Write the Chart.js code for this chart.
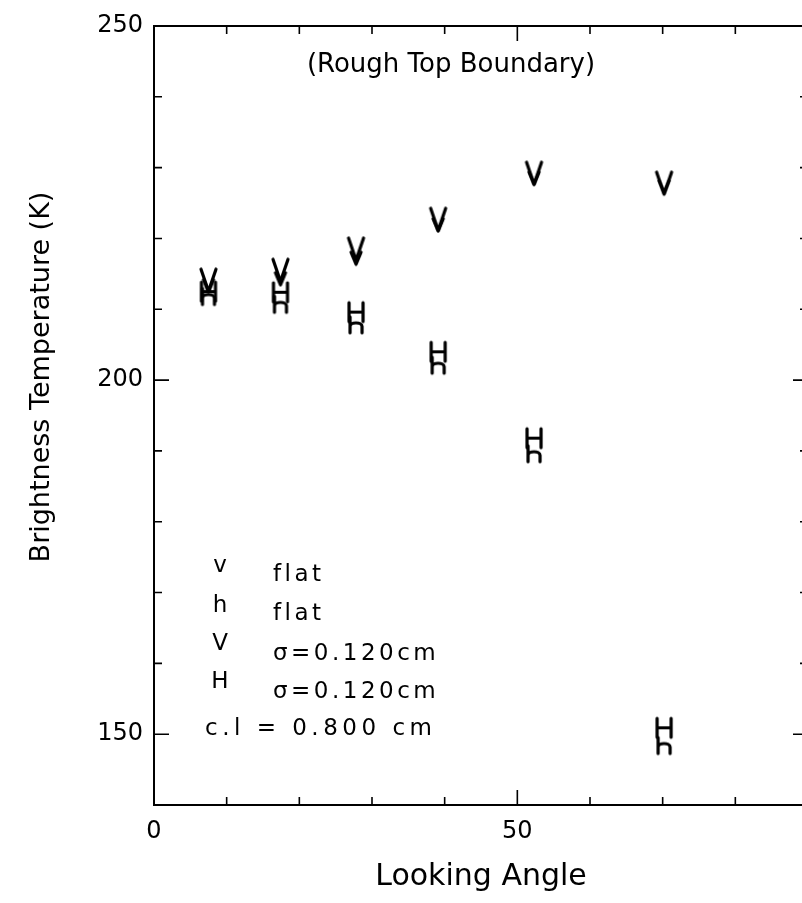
<!DOCTYPE html>
<html>
<head>
<meta charset="utf-8">
<script src="https://cdn.jsdelivr.net/npm/chart.js@4.4.1/dist/chart.umd.min.js"></script>
<style>
  html, body { margin: 0; padding: 0; background: #fff; overflow: hidden; }
  #wrap { width: 802px; height: 903px; overflow: hidden; }
  canvas { display: block; }
</style>
</head>
<body>
<div id="wrap"><canvas id="tbChart" width="814" height="903"></canvas></div>
<script>
// looking angles (deg) and brightness temperatures (K)
const angles = [7.5, 17.4, 27.8, 39.1, 52.3, 70.2];
const flatV = [213.3, 214.3, 217.2, 221.9, 228.5, 227.3];
const flatH = [211.8, 210.7, 207.8, 202.1, 189.6, 148.4];
const roughV = [214.1, 215.5, 218.5, 222.7, 229.2, 227.8];
const roughH = [212.5, 212.4, 209.6, 204.0, 191.8, 150.9];

const xTickLabels = [0, 50];
const yTickLabels = [150, 200, 250];

const legendSymbols = ['v', 'h', 'V', 'H'];
const legendLabels = ['flat', 'flat', 'σ=0.120cm', 'σ=0.120cm'];
const corrLabel = 'c.l = 0.800 cm';
const plotTitle = '(Rough Top Boundary)';

const FONT = '"DejaVu Sans", sans-serif';

// stroked letter markers, like an old pen plotter
function glyph(kind, w, h) {
    const pad = 3;
    const c = document.createElement('canvas');
    c.width = w + pad * 2;
    c.height = h + pad * 2;
    const g = c.getContext('2d');
    g.strokeStyle = '#000';
    g.lineWidth = 3.2;
    g.lineCap = 'round';
    g.lineJoin = 'round';
    g.translate(pad, pad);
    g.beginPath();
    if (kind === 'V' || kind === 'v') {
        g.moveTo(0, 0); g.lineTo(w / 2, h); g.lineTo(w, 0);
    } else if (kind === 'H') {
        g.moveTo(0, 0); g.lineTo(0, h);
        g.moveTo(w, 0); g.lineTo(w, h);
        g.moveTo(0, h / 2); g.lineTo(w, h / 2);
    } else if (kind === 'h') {
        g.moveTo(0, 0); g.lineTo(0, h);
        g.moveTo(0, h * 0.6);
        g.bezierCurveTo(0, h * 0.3, w, h * 0.3, w, h * 0.6);
        g.lineTo(w, h);
    }
    g.stroke();
    return c;
}

const markers = {
    v: glyph('v', 10, 12),
    h: glyph('h', 12, 16),
    V: glyph('V', 15, 22),
    H: glyph('H', 14, 19)
};

function toPoints(ys) {
    return angles.map((a, i) => ({ x: a, y: ys[i] }));
}

const decorations = {
    id: 'decorations',
    afterDraw(chart) {
        const ctx = chart.ctx;
        const { left, right, top, bottom } = chart.chartArea;
        const xs = chart.scales.x;
        const ys = chart.scales.y;
        ctx.save();
        ctx.strokeStyle = '#000';
        ctx.fillStyle = '#000';

        // frame
        ctx.lineWidth = 2;
        ctx.strokeRect(left, top, right - left, bottom - top);

        // inward ticks on all four sides
        ctx.lineWidth = 1.6;
        ctx.beginPath();
        xs.ticks.forEach(t => {
            const px = xs.getPixelForValue(t.value);
            const len = t.value % 50 === 0 ? 15 : 8;
            ctx.moveTo(px, bottom); ctx.lineTo(px, bottom - len);
            ctx.moveTo(px, top); ctx.lineTo(px, top + len);
        });
        ys.ticks.forEach(t => {
            const py = ys.getPixelForValue(t.value);
            const len = t.value % 50 === 0 ? 15 : 8;
            ctx.moveTo(left, py); ctx.lineTo(left + len, py);
            ctx.moveTo(right, py); ctx.lineTo(right - len, py);
        });
        ctx.stroke();

        // plot title
        ctx.font = '26px ' + FONT;
        ctx.textAlign = 'center';
        ctx.textBaseline = 'middle';
        ctx.fillText(plotTitle, 451, 65);

        // y axis title
        ctx.save();
        ctx.translate(42, 377);
        ctx.rotate(-Math.PI / 2);
        ctx.font = '27px ' + FONT;
        ctx.fillText('Brightness Temperature (K)', 0, 0);
        ctx.restore();

        // legend block
        const symX = 220;
        const symBase = [572, 612, 650, 688];
        const textBase = [581, 620, 660, 698];
        ctx.textBaseline = 'alphabetic';
        legendSymbols.forEach((s, i) => {
            ctx.textAlign = 'center';
            ctx.font = '23px ' + FONT;
            ctx.letterSpacing = '0px';
            ctx.fillText(s, symX, symBase[i]);
            ctx.textAlign = 'left';
            ctx.letterSpacing = '3.5px';
            ctx.fillText(legendLabels[i], 273, textBase[i]);
        });
        ctx.letterSpacing = '4.5px';
        ctx.fillText(corrLabel, 205, 735);
        ctx.letterSpacing = '0px';
        ctx.restore();
    }
};

const ctx = document.getElementById('tbChart').getContext('2d');

new Chart(ctx, {
    type: 'scatter',
    data: {
        datasets: [
            { label: 'v flat', data: toPoints(flatV), pointStyle: markers.v },
            { label: 'h flat', data: toPoints(flatH), pointStyle: markers.h },
            { label: 'V σ=0.120cm', data: toPoints(roughV), pointStyle: markers.V },
            { label: 'H σ=0.120cm', data: toPoints(roughH), pointStyle: markers.H }
        ]
    },
    options: {
        responsive: false,
        animation: false,
        // canvas is a bit wider than the page: the x = 90 edge is cut off
        layout: { padding: { left: 0, right: 6, top: 26, bottom: 0 } },
        plugins: {
            legend: { display: false },
            tooltip: { enabled: false }
        },
        scales: {
            x: {
                type: 'linear',
                min: 0,
                max: 90,
                grid: { display: false, drawTicks: false },
                border: { display: false },
                ticks: {
                    stepSize: 10,
                    autoSkip: false,
                    maxRotation: 0,
                    padding: 12,
                    color: '#000',
                    font: { family: FONT, size: 24 },
                    callback: (v) => xTickLabels.includes(v) ? String(v) : ''
                },
                title: {
                    display: true,
                    text: 'Looking Angle',
                    color: '#000',
                    font: { family: FONT, size: 30 },
                    padding: { top: 0, bottom: 8 }
                },
                afterFit: (scale) => {
                    scale.height = 98;
                    scale.paddingRight = 0;
                }
            },
            y: {
                type: 'linear',
                min: 140,
                max: 250,
                grid: { display: false, drawTicks: false },
                border: { display: false },
                ticks: {
                    stepSize: 10,
                    autoSkip: false,
                    padding: 11,
                    color: '#000',
                    font: { family: FONT, size: 24 },
                    callback: (v) => yTickLabels.includes(v) ? String(v) : ''
                },
                afterFit: (scale) => { scale.width = 154; }
            }
        }
    },
    plugins: [decorations]
});
</script>
</body>
</html>
